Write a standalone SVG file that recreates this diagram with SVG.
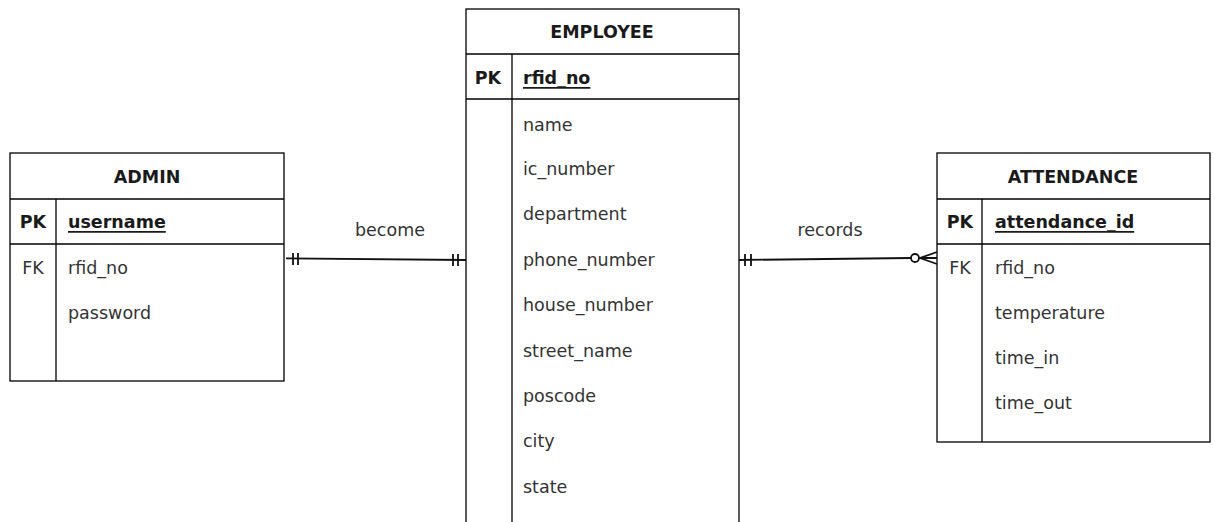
<svg xmlns="http://www.w3.org/2000/svg" width="1215" height="522" viewBox="0 0 1215 522">
<defs>
<style>
.box{fill:#fff;stroke:#000;stroke-width:1.3}
.ln{fill:none;stroke:#000;stroke-width:1.3}
.t{font-family:"DejaVu Sans",Verdana,sans-serif;font-size:17.5px;fill:#333;dominant-baseline:central}
.b{font-weight:bold;fill:#1a1a1a}
.c{text-anchor:middle}
.u{text-decoration:underline}
.con{fill:none;stroke:#111;stroke-width:1.8}
.lab{font-family:"DejaVu Sans",Verdana,sans-serif;font-size:17.5px;fill:#333;text-anchor:middle;dominant-baseline:central}
</style>
</defs>
<rect width="1215" height="522" fill="#fff"/>
<g id="admin">
<rect class="box" x="10" y="153" width="274" height="228"/>
<line class="ln" x1="10" y1="199" x2="284" y2="199"/>
<line class="ln" x1="10" y1="244" x2="284" y2="244"/>
<line class="ln" x1="56" y1="199" x2="56" y2="381"/>
<text class="t b c" x="147" y="177">ADMIN</text>
<text class="t b c" x="33" y="222">PK</text>
<text class="t b u" x="68" y="222">username</text>
<text class="t c" x="33" y="268">FK</text>
<text class="t" x="68" y="268">rfid_no</text>
<text class="t" x="68" y="313">password</text>
</g>
<g id="employee">
<rect class="box" x="466" y="9" width="273" height="540"/>
<line class="ln" x1="466" y1="54" x2="739" y2="54"/>
<line class="ln" x1="466" y1="99" x2="739" y2="99"/>
<line class="ln" x1="512" y1="54" x2="512" y2="549"/>
<text class="t b c" x="602" y="32">EMPLOYEE</text>
<text class="t b c" x="488" y="78">PK</text>
<text class="t b u" x="523" y="78">rfid_no</text>
<text class="t" x="523" y="125">name</text>
<text class="t" x="523" y="169">ic_number</text>
<text class="t" x="523" y="214">department</text>
<text class="t" x="523" y="260">phone_number</text>
<text class="t" x="523" y="305">house_number</text>
<text class="t" x="523" y="351">street_name</text>
<text class="t" x="523" y="396">poscode</text>
<text class="t" x="523" y="441">city</text>
<text class="t" x="523" y="487">state</text>
</g>
<g id="attendance">
<rect class="box" x="937" y="153" width="273" height="289"/>
<line class="ln" x1="937" y1="199" x2="1210" y2="199"/>
<line class="ln" x1="937" y1="244" x2="1210" y2="244"/>
<line class="ln" x1="982" y1="199" x2="982" y2="442"/>
<text class="t b c" x="1073" y="177">ATTENDANCE</text>
<text class="t b c" x="960" y="222">PK</text>
<text class="t b u" x="995" y="222">attendance_id</text>
<text class="t c" x="960" y="268">FK</text>
<text class="t" x="995" y="268">rfid_no</text>
<text class="t" x="995" y="313">temperature</text>
<text class="t" x="995" y="358">time_in</text>
<text class="t" x="995" y="403">time_out</text>
</g>
<g id="connectors">
<path class="con" d="M286 258.3 L466 260"/>
<path class="con" d="M293 253 V265 M298 253 V265"/>
<path class="con" d="M453 254 V266 M458 254 V266"/>
<text class="lab" x="390" y="230">become</text>
<path class="con" d="M739 260 L911 258"/>
<path class="con" d="M745 254 V266 M751 254 V266"/>
<circle cx="915" cy="258" r="4" fill="#fff" stroke="#111" stroke-width="1.8"/>
<path class="con" d="M937 252 L920 258 L937 264 M920 258 H937"/>
<text class="lab" x="830" y="230">records</text>
</g>
</svg>
